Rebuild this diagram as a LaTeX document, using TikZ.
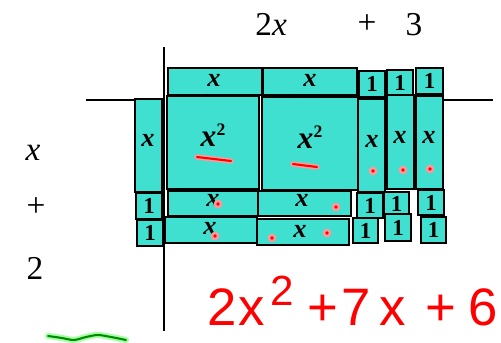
\documentclass[tikz,border=0pt]{standalone}
\usepackage{fontspec}
\setmainfont{Liberation Serif}
\newfontfamily\handfont{Liberation Sans}
\usepackage{xcolor}
\definecolor{tileturq}{RGB}{64,224,208}
\tikzset{
  tile/.style={draw=black, fill=tileturq, line width=0.8pt},
  tilelab/.style={inner sep=0pt, font=\fontsize{15}{15}\selectfont\bfseries\itshape},
  onelab/.style={inner sep=0pt, font=\fontsize{13}{13}\selectfont\bfseries},
  sqlab/.style={inner sep=0pt, font=\fontsize{18}{18}\selectfont\bfseries\itshape},
  factor/.style={inner sep=0pt, font=\fontsize{19}{19}\selectfont},
  axisline/.style={line width=1.2pt},
  redstroke/.style={draw=red, line width=1.2pt, line cap=round,
    preaction={draw=red!40, line width=3pt, line cap=round}},
  greenstroke/.style={draw=green!55!black, line width=1.2pt, line cap=round,
    preaction={draw=green!35, line width=3.5pt, line cap=round}},
  handtext/.style={inner sep=0pt, text=red, font=\handfont\fontsize{30}{30}\selectfont}
}
\newcommand{\sqsup}{\raisebox{6pt}{\fontsize{10}{10}\selectfont\upshape 2}}
\begin{document}
\begin{tikzpicture}[x=0.02cm, y=-0.02cm]
  \useasboundingbox (0,0) rectangle (501,342);
  % Axes: vertical line and the two visible parts of the horizontal one
  \coordinate (vtop) at (164,47);
  \coordinate (vbot) at (164,331);
  \coordinate (hleft) at (86,100);
  \coordinate (hleftend) at (135,100);
  \coordinate (hright) at (443,100);
  \coordinate (hrightend) at (493,100);
  \draw[axisline] (vtop) -- (vbot);
  \draw[axisline] (hleft) -- (hleftend);
  \draw[axisline] (hright) -- (hrightend);
  % Factor labels: 2x + 3 on top, x + 2 on the left
  \node[factor, anchor=base west] (top2x) at (255,35) {2\textit{x}};
  \node[factor] (topplus) at (367,24) {+};
  \node[factor, anchor=base] (top3) at (414,35) {3};
  \node[factor, anchor=base] (leftx) at (33,160) {\textit{x}};
  \node[factor] (leftplus) at (36,207) {+};
  \node[factor, anchor=base] (left2) at (35,279) {2};
  % Top row: two x tiles and three unit tiles
  \draw[tile] (168,68) rectangle (262,95);
  \node[tilelab] (topx1) at (214,80) {x};
  \draw[tile] (263,68) rectangle (357,95);
  \node[tilelab] (topx2) at (310,80) {x};
  \foreach \n/\xa/\ya/\xb/\yb in {topone1/359/71/385/97, topone2/387/70/413/96, topone3/416/68/443/94} {
    \draw[tile] (\xa,\ya) rectangle (\xb,\yb);
    \node[onelab] (\n) at ({(\xa+\xb)/2},{(\ya+\yb)/2}) {1};
  }
  % Left column: one x tile and two unit tiles
  \draw[tile] (135,99) rectangle (162,192);
  \node[tilelab] (leftxt) at (148,140) {x};
  \draw[tile] (136,193) rectangle (162,219);
  \node[onelab] (leftone1) at (149,206) {1};
  \draw[tile] (137,220) rectangle (163,246);
  \node[onelab] (leftone2) at (150,233) {1};
  % x^2 squares
  \draw[tile] (167,96) rectangle (259,189);
  \node[sqlab] (sq1) at (213,135) {x\sqsup};
  \draw[tile] (262,97) rectangle (358,190);
  \node[sqlab] (sq2) at (310,137) {x\sqsup};
  % Right column: three vertical x tiles
  \draw[tile] (358,99) rectangle (385,192);
  \node[tilelab] (rightx1) at (372,141) {x};
  \draw[tile] (387,95) rectangle (414,189);
  \node[tilelab] (rightx2) at (400,137) {x};
  \draw[tile] (416,96) rectangle (443,189);
  \node[tilelab] (rightx3) at (429,137) {x};
  % Bottom rows: four horizontal x tiles
  \draw[tile] (168,191) rectangle (258,216);
  \node[tilelab] (botx1) at (213,200) {x};
  \draw[tile] (258,191) rectangle (351,216);
  \node[tilelab] (botx2) at (302,200) {x};
  \draw[tile] (165,217) rectangle (257,243);
  \node[tilelab] (botx3) at (210,228) {x};
  \draw[tile] (257,219) rectangle (349,245);
  \node[tilelab] (botx4) at (300,231) {x};
  % Bottom right: six unit tiles
  \foreach \n/\xa/\ya/\xb/\yb in {botone1/357/193/383/218, botone2/384/192/409/215, botone3/418/190/444/215,
                                  botone4/353/218/378/243, botone5/385/214/411/241, botone6/421/217/446/243} {
    \draw[tile] (\xa,\ya) rectangle (\xb,\yb);
    \node[onelab] (\n) at ({(\xa+\xb)/2},{(\ya+\yb)/2}) {1};
  }
  % Red pen marks: dashes on the squares, dots on the x tiles
  \draw[redstroke] (197,157) -- (231,161);
  \draw[redstroke] (293,164) -- (317,167);
  \foreach \px/\py in {373/171, 403/170, 430/169, 218/204, 336/207, 215/236, 272/238, 327/233} {
    \fill[red!40] (\px,\py) circle (2.5pt);
    \fill[red] (\px,\py) circle (1.1pt);
  }
  % Handwritten result
  \node[handtext, anchor=base west] (result) at (207,325)
    {2\hspace{1pt}x\hspace{3pt}\raisebox{11pt}{\fontsize{24}{24}\selectfont 2}\hspace{8pt}+\hspace{2pt}7\hspace{5pt}x\hspace{11pt}+\hspace{7pt}6};
  % Green squiggle
  \draw[greenstroke] plot[smooth] coordinates {(48,336) (62,338) (74,340) (86,337) (98,335) (111,337) (126,340)};
\end{tikzpicture}
\end{document}
